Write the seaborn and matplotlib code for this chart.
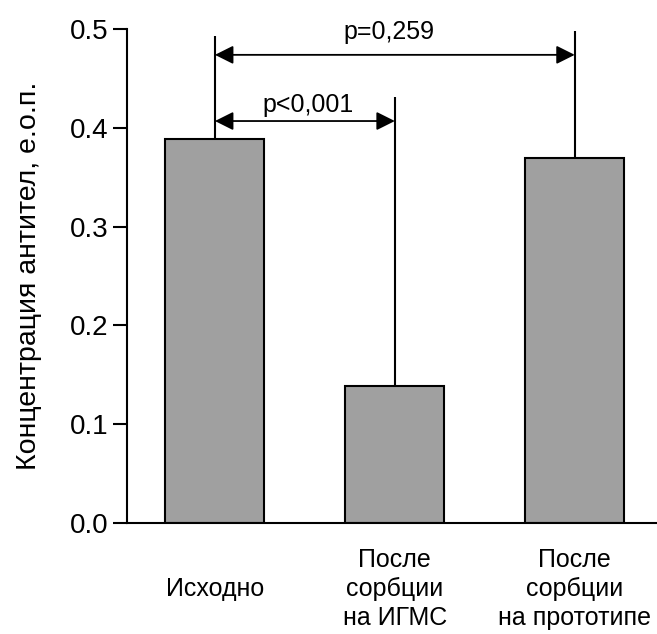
import numpy as np
import pandas as pd
import matplotlib
matplotlib.use("Agg")
import matplotlib.pyplot as plt
import seaborn as sns

# data
groups = ["\nИсходно", "После\nсорбции\nна ИГМС", "После\nсорбции\nна прототипе"]
means = [0.389, 0.139, 0.370]
errors = [0.104, 0.292, 0.128]
p_labels = ["p<0,001", "p=0,259"]

sns.set_style("ticks", {"axes.edgecolor": "black", "text.color": "black",
                        "axes.labelcolor": "black", "xtick.color": "black",
                        "ytick.color": "black"})
plt.rcParams['font.family'] = ['Liberation Sans', 'DejaVu Sans']

fig = plt.figure(figsize=(6.57, 6.34), dpi=100)
ax = fig.add_axes([0.193, 0.175, 0.805, 0.779])

df = pd.DataFrame({"group": groups, "value": means})
sns.barplot(data=df, x="group", y="value", color="#a0a0a0", edgecolor="black",
            linewidth=1.5, width=0.55, saturation=1, errorbar=None, ax=ax)

# upper-only error bars, no caps
ax.errorbar(np.arange(len(means)), means, yerr=[np.zeros(len(errors)), errors],
            fmt="none", ecolor="black", elinewidth=1.5, capsize=0, zorder=1)

# significance arrows
arrow_kw = dict(arrowstyle="<|-|>", color="black", lw=1.3, mutation_scale=28,
                shrinkA=0, shrinkB=0)
ax.annotate("", xy=(0, 0.407), xytext=(1, 0.407), arrowprops=arrow_kw)
ax.annotate("", xy=(0, 0.474), xytext=(2, 0.474), arrowprops=arrow_kw)
ax.text(0.52, 0.416, p_labels[0], ha="center", va="baseline", fontsize=18)
ax.text(0.97, 0.490, p_labels[1], ha="center", va="baseline", fontsize=18)

ax.set_ylim(0, 0.5)
ax.set_xlim(-0.49, 2.45)
ax.set_yticks([0.0, 0.1, 0.2, 0.3, 0.4, 0.5])
ax.set_yticklabels(["0.0", "0.1", "0.2", "0.3", "0.4", "0.5"])
ax.tick_params(axis="y", length=10, width=1.5, labelsize=20, pad=3)
ax.tick_params(axis="x", length=0, labelsize=18, pad=18)
for lbl in ax.get_xticklabels():
    lbl.set_linespacing(1.25)
ax.set_xlabel("")
ax.set_ylabel("Концентрация антител, е.о.п.", fontsize=20.5, labelpad=20)

for s in ["top", "right"]:
    ax.spines[s].set_visible(False)
for s in ["left", "bottom"]:
    ax.spines[s].set_linewidth(1.5)

fig.savefig("out.png", dpi=100)
